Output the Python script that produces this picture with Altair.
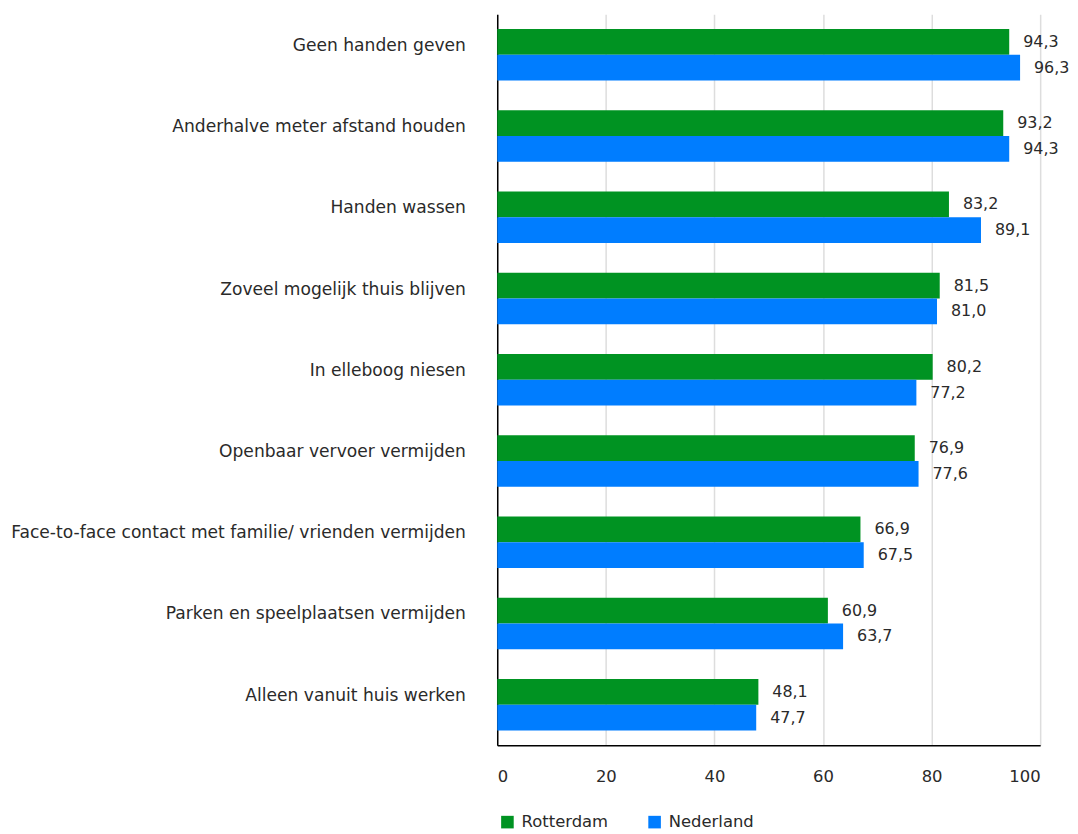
import altair as alt
import pandas as pd

categories = [
    "Geen handen geven",
    "Anderhalve meter afstand houden",
    "Handen wassen",
    "Zoveel mogelijk thuis blijven",
    "In elleboog niesen",
    "Openbaar vervoer vermijden",
    "Face-to-face contact met familie/ vrienden vermijden",
    "Parken en speelplaatsen vermijden",
    "Alleen vanuit huis werken",
]
series = ["Rotterdam", "Nederland"]
rotterdam = [94.3, 93.2, 83.2, 81.5, 80.2, 76.9, 66.9, 60.9, 48.1]
nederland = [96.3, 94.3, 89.1, 81.0, 77.2, 77.6, 67.5, 63.7, 47.7]
colors = ["#009322", "#007DFF"]

rows = []
for c, r, n in zip(categories, rotterdam, nederland):
    rows.append({"cat": c, "serie": "Rotterdam", "value": r})
    rows.append({"cat": c, "serie": "Nederland", "value": n})
df = pd.DataFrame(rows)

FONT = "DejaVu Sans"
TXT = "#2a2a2a"

base = alt.Chart(df).encode(
    y=alt.Y("cat:N", sort=categories, title=None,
            scale=alt.Scale(paddingInner=0.364, paddingOuter=0.18),
            axis=alt.Axis(ticks=False, labelPadding=32, labelOffset=-9,
                          labelFontSize=17.2, labelFont=FONT, labelColor=TXT,
                          domainColor="#000000", domainWidth=1.5, grid=False,
                          labelLimit=600)),
    yOffset=alt.YOffset("serie:N", sort=series, scale=alt.Scale(paddingInner=0, paddingOuter=0)),
)

bars = base.mark_bar().encode(
    x=alt.X("value:Q", title=None,
            scale=alt.Scale(domain=[0, 100], nice=False),
            axis=alt.Axis(values=[0, 20, 40, 60, 80, 100], ticks=False, labelPadding=24,
                          labelFontSize=16.5, labelFont=FONT, labelColor=TXT,
                          domainColor="#000000", domainWidth=1.5,
                          grid=True, gridColor="#dddddd", gridWidth=1.5)),
    color=alt.Color("serie:N", sort=series,
                    scale=alt.Scale(domain=series, range=colors),
                    legend=alt.Legend(title=None, orient="none", direction="horizontal",
                                      legendX=2, legendY=804, symbolType="square",
                                      symbolSize=160, symbolStrokeWidth=0, symbolOpacity=1,
                                      labelFontSize=16.5, labelFont=FONT, labelColor=TXT,
                                      columnPadding=38, labelOffset=6, padding=0)),
)

labels = base.transform_calculate(
    lab="replace(format(datum.value, '.1f'), '.', ',')"
).mark_text(align="left", baseline="middle", dx=14, fontSize=16, font=FONT, color=TXT).encode(
    x=alt.X("value:Q"),
    text="lab:N",
)

chart = (bars + labels).properties(
    width=546, height=735,
    autosize=alt.AutoSizeParams(type="none"),
    padding={"left": 492, "top": 4, "right": 30, "bottom": 90},
).configure_view(stroke=None)

chart.save("out.html", embed_options={"renderer": "svg", "actions": False})
